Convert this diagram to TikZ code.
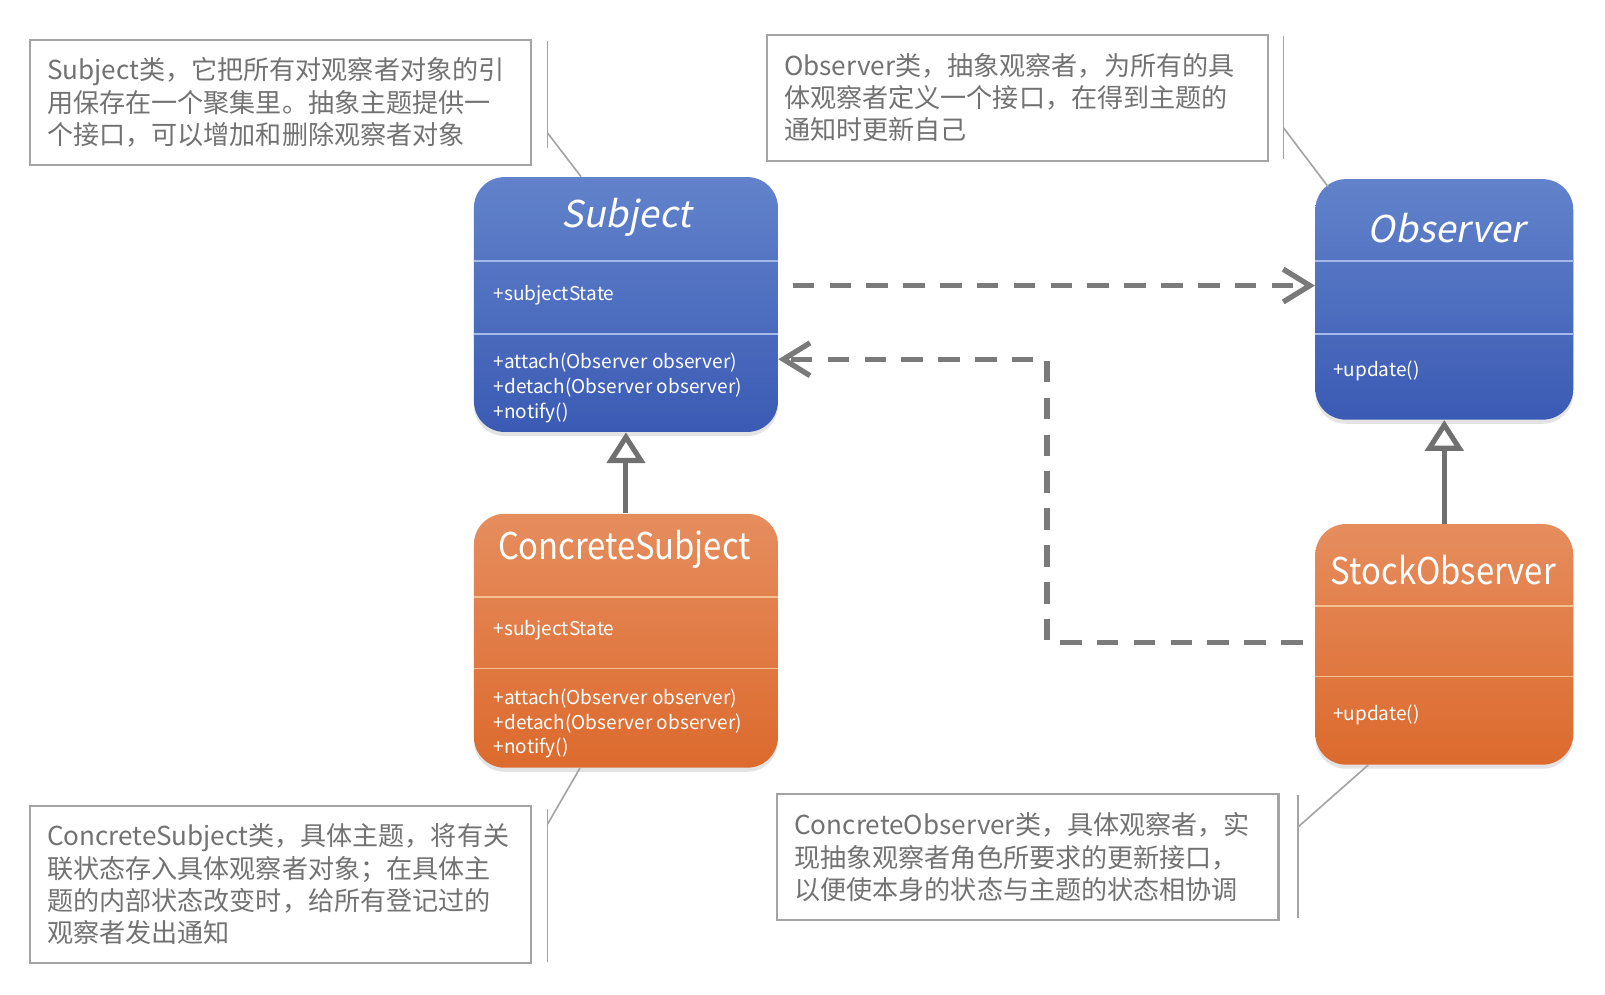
\documentclass[tikz,border=0pt]{standalone}
\usepackage{fontspec}
\setmainfont{Noto Sans CJK SC}
\newfontfamily\slfont[FakeSlant=0.2]{Noto Sans CJK SC}
\newfontfamily\narrowfont[FakeStretch=0.89]{Noto Sans CJK SC}
\usetikzlibrary{arrows.meta,shadows}
\definecolor{bluetop}{HTML}{6283CB}
\definecolor{bluebot}{HTML}{3B5AB4}
\definecolor{ortop}{HTML}{E68D5E}
\definecolor{orbot}{HTML}{DC6A2D}
\definecolor{bluesep}{HTML}{A3BAEA}
\definecolor{orsep}{HTML}{F4C08F}
\definecolor{notegray}{HTML}{A4A4A4}
\definecolor{notetext}{HTML}{727272}
\definecolor{arrowgray}{HTML}{7A7A7A}
\definecolor{inhgray}{HTML}{707070}
\begin{document}
\begin{tikzpicture}[x=0.5pt,y=-0.5pt,
  cls/.style={rectangle, rounded corners=15pt, draw=none, inner sep=0pt,
    drop shadow={opacity=0.22, shadow xshift=0pt, shadow yshift=-2pt}},
  bluecls/.style={cls, top color=bluetop, bottom color=bluebot},
  orcls/.style={cls, top color=ortop, bottom color=orbot},
  bsep/.style={draw=bluesep, line width=0.8pt},
  osep/.style={draw=orsep, line width=0.8pt},
  title/.style={text=white, inner sep=0pt, font=\fontsize{18pt}{21pt}\selectfont},
  member/.style={text=white, inner sep=0pt, align=left, anchor=west, font=\fontsize{9.3pt}{12pt}\selectfont},
  note/.style={draw=notegray, line width=1pt, rectangle, inner xsep=8.5pt, inner ysep=0pt,
    text width=228pt, align=left, text=notetext, anchor=north west,
    font=\fontsize{12.75pt}{15.75pt}\selectfont},
  callout/.style={draw=notegray, line width=0.8pt},
  dep/.style={draw=arrowgray, line width=2.6pt, dash pattern=on 10.5pt off 7.5pt,
    -{Straight Barb[length=13pt,width=16pt]}},
  inh/.style={draw=inhgray, line width=2.5pt,
    -{Triangle[open, length=15pt, width=18.5pt, fill=white]}}
]
\useasboundingbox (0,0) rectangle (1568,972);
\fill[white] (0,0) rectangle (1568,972);

% class boxes
\node[bluecls, minimum width=148.5pt, minimum height=124.5pt] (subject) at (611.5,297.5) {};
\node[bluecls, minimum width=126pt, minimum height=117.5pt] (observer) at (1411,292.5) {};
\node[orcls, minimum width=148.5pt, minimum height=124pt] (csubj) at (611.5,626) {};
\node[orcls, minimum width=126pt, minimum height=117.5pt] (stock) at (1411,629.5) {};

% separators
\draw[bsep] (subject.west |- 0,255) -- (subject.east |- 0,255);
\draw[bsep] (subject.west |- 0,326) -- (subject.east |- 0,326);
\draw[bsep] (observer.west |- 0,255) -- (observer.east |- 0,255);
\draw[bsep] (observer.west |- 0,326) -- (observer.east |- 0,326);
\draw[osep] (csubj.west |- 0,583) -- (csubj.east |- 0,583);
\draw[osep] (csubj.west |- 0,653) -- (csubj.east |- 0,653);
\draw[osep] (stock.west |- 0,592) -- (stock.east |- 0,592);
\draw[osep] (stock.west |- 0,661) -- (stock.east |- 0,661);

% titles
\node[title] (subjT) at (612,212) {\slfont Subject};
\node[title] (obsT) at (1413,223) {\slfont Observer};
\node[title] (csubjT) at (610,537) {\narrowfont ConcreteSubject};
\node[title] (stockT) at (1410,557) {\narrowfont StockObserver};

% members
\node[member] (subjA) at (482,288) {+subjectState};
\node[member] (subjM) at (482,379) {+attach(Observer observer)\\+detach(Observer observer)\\+notify()};
\node[member] (obsM) at (1302,362) {+update()};
\node[member] (csubjA) at (482,616) {+subjectState};
\node[member] (csubjM) at (482,707) {+attach(Observer observer)\\+detach(Observer observer)\\+notify()};
\node[member] (stockM) at (1302,698) {+update()};

% relations
\draw[dep, shorten <=7pt] ([yshift=9.25pt]subject.east) -- ([yshift=6.75pt]observer.west);
\coordinate (k1) at (1023,628);
\coordinate (k2) at (1023,351);
\draw[dep, shorten <=6pt] ([yshift=0.75pt]stock.west) -- (k1) -- (k2) -- ([yshift=-26.75pt]subject.east);
\draw[inh] (csubj.north) -- (subject.south);
\draw[inh] (stock.north) -- (observer.south);

% notes
\node[note, minimum height=61pt] (n1) at (28,38)
  {Subject类，它把所有对观察者对象的引\\用保存在一个聚集里。抽象主题提供一\\个接口，可以增加和删除观察者对象};
\node[note, minimum height=61.5pt] (n2) at (748,33)
  {Observer类，抽象观察者，为所有的具\\体观察者定义一个接口，在得到主题的\\通知时更新自己};
\node[note, minimum height=77pt] (n3) at (28,786)
  {ConcreteSubject类，具体主题，将有关\\联状态存入具体观察者对象；在具体主\\题的内部状态改变时，给所有登记过的\\观察者发出通知};
\node[note, minimum height=61.5pt] (n4) at (758,775)
  {ConcreteObserver类，具体观察者，实\\现抽象观察者角色所要求的更新接口，\\以便使本身的状态与主题的状态相协调};

% callouts
\coordinate (c1t) at (535,40);  \coordinate (c1b) at (535,145); \coordinate (c1m) at (535,130);
\draw[callout] (c1t) -- (c1b);
\draw[callout] (c1m) -- ([xshift=52.5pt]subject.north west);
\coordinate (c2t) at (1254,35); \coordinate (c2b) at (1254,155); \coordinate (c2m) at (1254,125);
\draw[callout] (c2t) -- (c2b);
\draw[callout] (c2m) -- ([xshift=6.5pt,yshift=-4pt]observer.north west);
\coordinate (c3t) at (535,790); \coordinate (c3b) at (535,940); \coordinate (c3m) at (535,805);
\draw[callout] (c3t) -- (c3b);
\draw[callout] (c3m) -- ([xshift=52pt]csubj.south west);
\coordinate (c4t) at (1268,777); \coordinate (c4b) at (1268,897); \coordinate (c4m) at (1268,808);
\draw[callout] (c4t) -- (c4b);
\draw[callout] (c4m) -- ([xshift=26pt]stock.south west);
\end{tikzpicture}
\end{document}
